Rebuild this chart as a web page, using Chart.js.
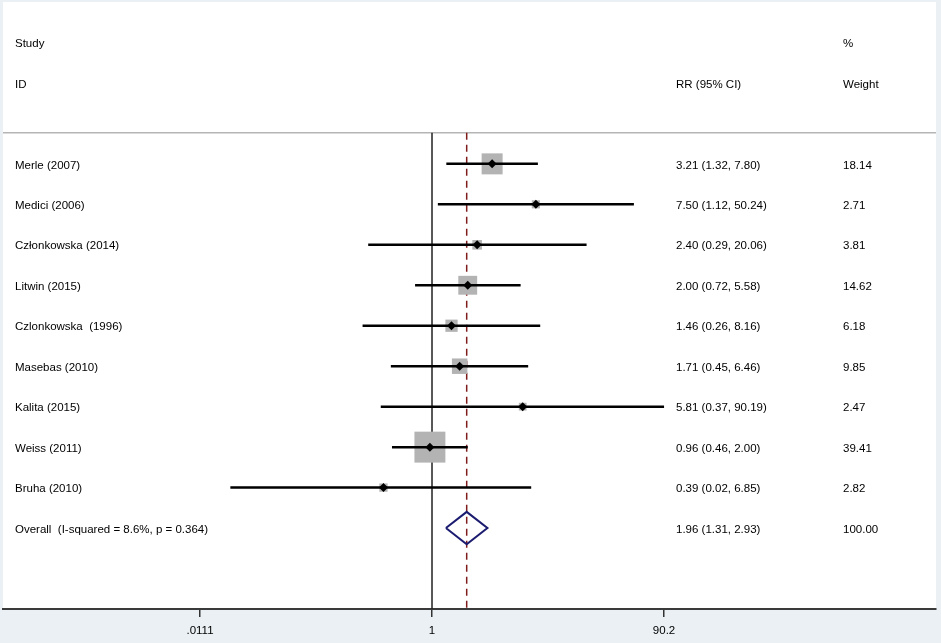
<!DOCTYPE html>
<html>
<head>
<meta charset="utf-8">
<script src="https://cdn.jsdelivr.net/npm/chart.js@4.4.0/dist/chart.umd.min.js"></script>
<style>
  html, body { margin: 0; padding: 0; background: #eaf0f3; }
  #wrap { width: 941px; height: 643px; }
</style>
</head>
<body>
<div id="wrap"><canvas id="forest" width="941" height="643"></canvas></div>
<script>
// -------------------
// Data
// -------------------
const studies = ["Merle (2007)", "Medici (2006)", "Członkowska (2014)", "Litwin (2015)",
  "Czlonkowska  (1996)", "Masebas (2010)", "Kalita (2015)", "Weiss (2011)", "Bruha (2010)"];
const rr = [3.21, 7.50, 2.40, 2.00, 1.46, 1.71, 5.81, 0.96, 0.39];
const ciLow = [1.32, 1.12, 0.29, 0.72, 0.26, 0.45, 0.37, 0.46, 0.02];
const ciHigh = [7.80, 50.24, 20.06, 5.58, 8.16, 6.46, 90.19, 2.00, 6.85];
const weights = [18.14, 2.71, 3.81, 14.62, 6.18, 9.85, 2.47, 39.41, 2.82];

const overallLabel = "Overall  (I-squared = 8.6%, p = 0.364)";
const overallRR = 1.96;
const overallLow = 1.31;
const overallHigh = 2.93;
const overallWeight = 100.00;

const xTicks = [0.0111, 1, 90.2];
const xTickLabels = [".0111", "1", "90.2"];

// axis range (log scale) so that 1 sits where the reference has it
const X_MIN = 2.429e-4;
const X_MAX = 17635;
const OVERALL_ROW = studies.length;
const HEADER_LINE = -0.77;   // row position of the grey separator
const Y_BOTTOM = 11;

// text column positions (px)
const COL_STUDY = 15;
const COL_RR = 676;
const COL_WEIGHT = 843;
const TEXT_DY = 1.5;

const fmt = v => v.toFixed(2);

// -------------------
// Datasets
// -------------------
const ciLines = [];
studies.forEach((s, i) => {
  ciLines.push({ x: ciLow[i], y: i }, { x: ciHigh[i], y: i }, { x: ciHigh[i], y: null });
});

const diamond = [
  { x: overallLow, y: OVERALL_ROW },
  { x: overallRR, y: OVERALL_ROW - 0.4 },
  { x: overallHigh, y: OVERALL_ROW },
  { x: overallRR, y: OVERALL_ROW + 0.4 },
  { x: overallLow, y: OVERALL_ROW }
];

const points = rr.map((v, i) => ({ x: v, y: i }));

// background: light frame, white panel
const panelBg = {
  id: 'panelBg',
  beforeDraw(chart) {
    const { ctx, chartArea } = chart;
    ctx.save();
    ctx.fillStyle = '#eaf0f3';
    ctx.fillRect(0, 0, chart.width, chart.height);
    ctx.fillStyle = '#ffffff';
    ctx.fillRect(chartArea.left, chartArea.top, chartArea.right - chartArea.left, chartArea.bottom - chartArea.top);
    ctx.restore();
  }
};

// study columns (text)
const columns = {
  id: 'columns',
  afterDatasetsDraw(chart) {
    const { ctx } = chart;
    const y = chart.scales.y;
    const rowY = v => y.getPixelForValue(v) + TEXT_DY;
    ctx.save();
    ctx.font = '11.5px "Liberation Sans", Arial, sans-serif';
    ctx.fillStyle = '#000';
    ctx.textBaseline = 'middle';
    ctx.textAlign = 'left';
    ctx.fillText('Study', COL_STUDY, rowY(-3));
    ctx.fillText('ID', COL_STUDY, rowY(-2));
    ctx.fillText('%', COL_WEIGHT, rowY(-3));
    ctx.fillText('RR (95% CI)', COL_RR, rowY(-2));
    ctx.fillText('Weight', COL_WEIGHT, rowY(-2));
    studies.forEach((s, i) => {
      const py = rowY(i);
      ctx.fillText(s, COL_STUDY, py);
      ctx.fillText(fmt(rr[i]) + ' (' + fmt(ciLow[i]) + ', ' + fmt(ciHigh[i]) + ')', COL_RR, py);
      ctx.fillText(fmt(weights[i]), COL_WEIGHT, py);
    });
    const oy = rowY(OVERALL_ROW);
    ctx.fillText(overallLabel, COL_STUDY, oy);
    ctx.fillText(fmt(overallRR) + ' (' + fmt(overallLow) + ', ' + fmt(overallHigh) + ')', COL_RR, oy);
    ctx.fillText(fmt(overallWeight), COL_WEIGHT, oy);
    ctx.restore();
  }
};

new Chart(document.getElementById('forest'), {
  type: 'scatter',
  data: {
    datasets: [
      { // study estimate markers
        data: points,
        pointStyle: 'rectRot',
        pointRadius: 4.5,
        backgroundColor: '#000',
        borderColor: '#000',
        borderWidth: 0,
        order: 1
      },
      { // overall diamond
        type: 'line',
        data: diamond,
        borderColor: '#1b1b70',
        borderWidth: 2,
        pointRadius: 0,
        fill: false,
        order: 2
      },
      { // confidence intervals
        type: 'line',
        data: ciLines,
        borderColor: '#000',
        borderWidth: 2.5,
        pointRadius: 0,
        spanGaps: false,
        order: 3
      },
      { // weight boxes
        data: points,
        pointStyle: 'rect',
        pointRadius: ctx => 4.93 * Math.sqrt(weights[ctx.dataIndex]) / Math.SQRT2,
        backgroundColor: '#b3b3b3',
        borderWidth: 0,
        order: 4
      },
      { // overall effect (dashed)
        type: 'line',
        data: [{ x: overallRR, y: HEADER_LINE }, { x: overallRR, y: Y_BOTTOM }],
        borderColor: '#7f1d1d',
        borderWidth: 1.5,
        borderDash: [7, 5],
        pointRadius: 0,
        order: 5
      },
      { // null line
        type: 'line',
        data: [{ x: 1, y: HEADER_LINE }, { x: 1, y: Y_BOTTOM }],
        borderColor: '#222',
        borderWidth: 1.5,
        pointRadius: 0,
        order: 6
      },
      { // header separator
        type: 'line',
        data: [{ x: X_MIN, y: HEADER_LINE }, { x: X_MAX, y: HEADER_LINE }],
        borderColor: '#b5b5b5',
        borderWidth: 1.5,
        pointRadius: 0,
        order: 7
      }
    ]
  },
  options: {
    responsive: false,
    animation: false,
    layout: { autoPadding: false, padding: { left: 3, right: 5, top: 2, bottom: 0 } },
    plugins: {
      legend: { display: false },
      tooltip: { enabled: false }
    },
    scales: {
      x: {
        type: 'logarithmic',
        position: 'bottom',
        min: X_MIN,
        max: X_MAX,
        afterBuildTicks: scale => { scale.ticks = xTicks.map(v => ({ value: v })); },
        afterFit: scale => { scale.height = 34; },
        ticks: {
          autoSkip: false,
          maxRotation: 0,
          padding: 7,
          color: '#000',
          font: { family: '"Liberation Sans", Arial, sans-serif', size: 11.5 },
          callback: (v, i) => xTickLabels[i]
        },
        grid: { drawOnChartArea: false, drawTicks: true, tickLength: 8, color: '#333', lineWidth: 1.5 },
        border: { color: '#3a3a3a', width: 2 }
      },
      y: {
        type: 'linear',
        reverse: true,
        min: -4,
        max: Y_BOTTOM,
        display: false
      }
    }
  },
  plugins: [panelBg, columns]
});
</script>
</body>
</html>
